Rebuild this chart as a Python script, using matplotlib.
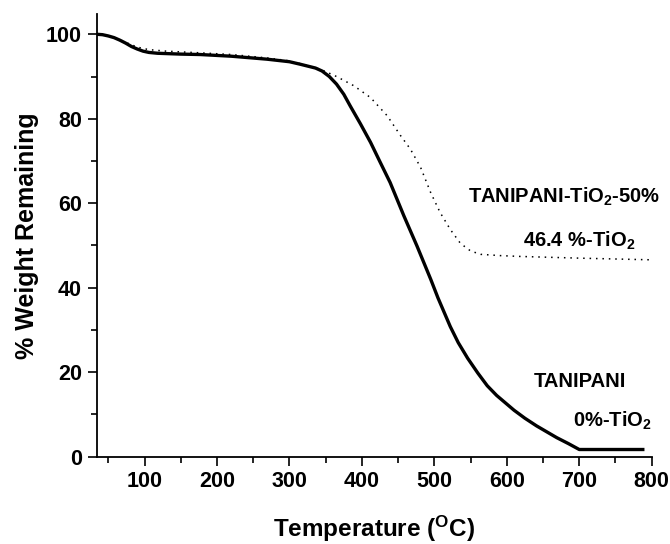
import matplotlib
matplotlib.use("Agg")
import matplotlib.pyplot as plt
from matplotlib.ticker import MultipleLocator

# ---- data ----
temp_pani = [34, 42, 50, 58, 66, 74, 82, 90, 98, 106, 118, 150, 177, 220, 269, 300,
             315, 336, 345, 355, 365, 375, 384, 398, 412, 425, 439, 458, 476, 495,
             505, 515, 522, 533, 546, 560, 573, 586, 610, 625, 641, 655, 669, 685,
             700, 790]
wt_pani = [100.0, 99.9, 99.6, 99.2, 98.6, 97.9, 97.1, 96.5, 96.0, 95.7, 95.5, 95.3,
           95.2, 94.8, 94.1, 93.5, 92.9, 92.0, 91.3, 90.0, 88.2, 85.8, 83.0, 78.8,
           74.4, 69.8, 64.9, 57.0, 49.9, 42.0, 37.6, 33.6, 30.8, 27.0, 23.3, 19.8,
           16.8, 14.5, 11.0, 9.1, 7.3, 5.9, 4.5, 3.1, 1.7, 1.7]

temp_tio2 = [34, 42, 50, 58, 66, 74, 82, 90, 98, 110, 130, 177, 220, 269, 300, 320,
             343, 365, 389, 412, 435, 453, 467, 481, 495, 508, 522, 536, 550, 564,
             591, 619, 700, 800]
wt_tio2 = [100.0, 99.9, 99.6, 99.2, 98.7, 98.1, 97.5, 97.0, 96.6, 96.3, 96.0, 95.6,
           95.2, 94.4, 93.7, 92.8, 91.7, 90.0, 87.8, 85.0, 80.7, 76.1, 72.8, 68.5,
           62.5, 57.8, 53.8, 50.5, 48.7, 47.9, 47.6, 47.4, 47.0, 46.6]

x_major_ticks = [100, 200, 300, 400, 500, 600, 700, 800]
y_major_ticks = [0, 20, 40, 60, 80, 100]

plt.rcParams['font.family'] = ['Liberation Sans', 'DejaVu Sans']
plt.rcParams['font.weight'] = 'bold'
plt.rcParams['mathtext.fontset'] = 'custom'
plt.rcParams['mathtext.rm'] = 'Liberation Sans:bold'
plt.rcParams['mathtext.it'] = 'Liberation Sans:bold'
plt.rcParams['mathtext.bf'] = 'Liberation Sans:bold'
plt.rcParams['mathtext.default'] = 'rm'

fig = plt.figure(figsize=(6.7, 5.44), dpi=100)
ax = fig.add_axes([0.1443, 0.1605, 0.9727 - 0.1443, 0.9743 - 0.1605])

ax.plot(temp_tio2, wt_tio2, color='black', lw=1.1, linestyle=(0, (1, 3.2)))
ax.plot(temp_pani, wt_pani, color='black', lw=2.4, solid_capstyle='butt',
        solid_joinstyle='round')

ax.set_xlim(34, 800)
ax.set_ylim(0, 104.8)
ax.set_xticks(x_major_ticks)
ax.set_yticks(y_major_ticks)
ax.xaxis.set_minor_locator(MultipleLocator(50))
ax.yaxis.set_minor_locator(MultipleLocator(10))

for s in ['top', 'right']:
    ax.spines[s].set_visible(False)
for s in ['left', 'bottom']:
    ax.spines[s].set_linewidth(1.3)

ax.tick_params(axis='both', which='major', direction='out', length=6.5, width=1.2,
               labelsize=15.5, pad=4)
ax.tick_params(axis='both', which='minor', direction='out', length=4, width=1.2)
for lab in ax.get_xticklabels() + ax.get_yticklabels():
    lab.set_fontweight('bold')

ax.set_xlabel(r'Temperature ($^{O}$C)', fontsize=17.5, fontweight='bold')
ax.xaxis.label.set_va('baseline')
ax.xaxis.set_label_coords(0.5, -0.1807)
ax.set_ylabel('% Weight Remaining', fontsize=18, fontweight='bold')
ax.yaxis.set_label_coords(-0.104, 0.5)

ax.text(547, 60.2, r'TANIPANI-TiO$_{2}$-50%', fontsize=14.5, fontweight='bold',
        ha='left', va='baseline')
ax.text(621.8, 49.8, r'46.4 %-TiO$_{2}$', fontsize=14.5, fontweight='bold',
        ha='left', va='baseline')
ax.text(637, 16.4, 'TANIPANI', fontsize=14.5, fontweight='bold',
        ha='left', va='baseline')
ax.text(690.8, 7.0, r'0%-TiO$_{2}$', fontsize=14.5, fontweight='bold',
        ha='left', va='baseline')

fig.savefig('out.png', dpi=100)
